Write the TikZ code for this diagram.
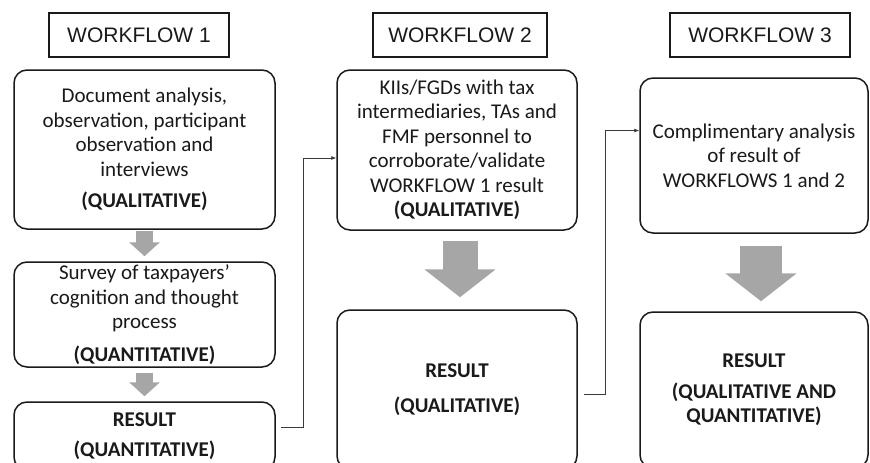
\documentclass[tikz,border=0pt]{standalone}
\usepackage{fontspec}
\setmainfont{Carlito}
\newfontfamily\headfont{Liberation Sans}
\usetikzlibrary{arrows.meta,positioning,calc}
\definecolor{Ink}{HTML}{1A1A1A}
\definecolor{ArrowGray}{HTML}{A6A6A6}
\definecolor{LinkGray}{HTML}{3A3A3A}
\tikzset{header/.style={rectangle,draw=Ink,line width=1.3pt,minimum height=44pt,font=\headfont\fontsize{21}{25}\selectfont,text=Ink},stage/.style={rectangle,rounded corners=13pt,draw=Ink,line width=1.5pt,align=center,text=Ink,font=\fontsize{21}{24.5}\selectfont,inner sep=0pt},flowarrow/.style={draw=ArrowGray,line width=17pt,-{Triangle[length=14pt,width=30pt]}},bigflow/.style={draw=ArrowGray,line width=38pt,-{Triangle[length=28pt,width=70pt]}},link/.style={draw=LinkGray,line width=0.7pt,-{Latex[length=5pt,width=4pt]}}}

\begin{document}
\begin{tikzpicture}[x=1pt,y=-1pt]
\path[use as bounding box,fill=white] (0,0) rectangle (870,463);
\clip (0,0) rectangle (870,463);
% headers
\node[header,minimum width=180pt] (H1) at (139,35) {WORKFLOW 1};
\node[header,minimum width=174pt] (H2) at (460,35) {WORKFLOW 2};
\node[header,minimum width=180pt] (H3) at (760,35) {WORKFLOW 3};
% workflow 1
\node[stage,minimum width=261pt,minimum height=159pt] (A) at (144.5,149.5) {Document analysis,\\observation, participant\\observation and\\interviews\\[7pt]\textbf{(QUALITATIVE)}};
\node[stage,minimum width=261pt,minimum height=105pt] (B) at (144.5,314.5) {Survey of taxpayers’\\cognition and thought\\process\\[8pt]\textbf{(QUANTITATIVE)}};
\node[stage,minimum width=261pt,minimum height=68pt] (C) at (144.5,436) {\textbf{RESULT}\\[5pt]\textbf{(QUANTITATIVE)}};
% workflow 2
\node[stage,minimum width=240pt,minimum height=160pt] (D) at (457,150) {KIIs/FGDs with tax\\intermediaries, TAs and\\FMF personnel to\\corroborate/validate\\WORKFLOW 1 result\\\textbf{(QUALITATIVE)}};
\node[stage,minimum width=240pt,minimum height=159pt] (E) at (457,389.5) {\textbf{RESULT}\\[10pt]\textbf{(QUALITATIVE)}};
% workflow 3
\node[stage,minimum width=228pt,minimum height=155pt] (F) at (754,155.5) {Complimentary analysis\\of result of\\WORKFLOWS 1 and 2};
\node[stage,minimum width=228pt,minimum height=156pt] (G) at (754,390) {\textbf{RESULT}\\[6pt]\textbf{(QUALITATIVE AND}\\\textbf{QUANTITATIVE)}};
% block arrows
\draw[flowarrow,shorten <=1pt,shorten >=5pt] (A) -- (B);
\draw[flowarrow,shorten <=5pt,shorten >=5pt] (B) -- (C);
\draw[bigflow,line width=35pt,shorten <=10pt,shorten >=12pt] ([xshift=3pt]D.south) -- ([xshift=3pt]E.north);
\draw[bigflow,line width=42pt,shorten <=12pt,shorten >=10pt] ([xshift=7pt]F.south) -- ([xshift=7pt]G.north);
% links between workflows
\draw[link] ([xshift=5pt,yshift=9pt]C.east) -- ++(23,0) |- ([yshift=-8pt]D.west);
\draw[link] ([xshift=6pt,yshift=-5pt]E.east) -- ++(22,0) |- ([yshift=25pt]F.west);
\end{tikzpicture}
\end{document}
